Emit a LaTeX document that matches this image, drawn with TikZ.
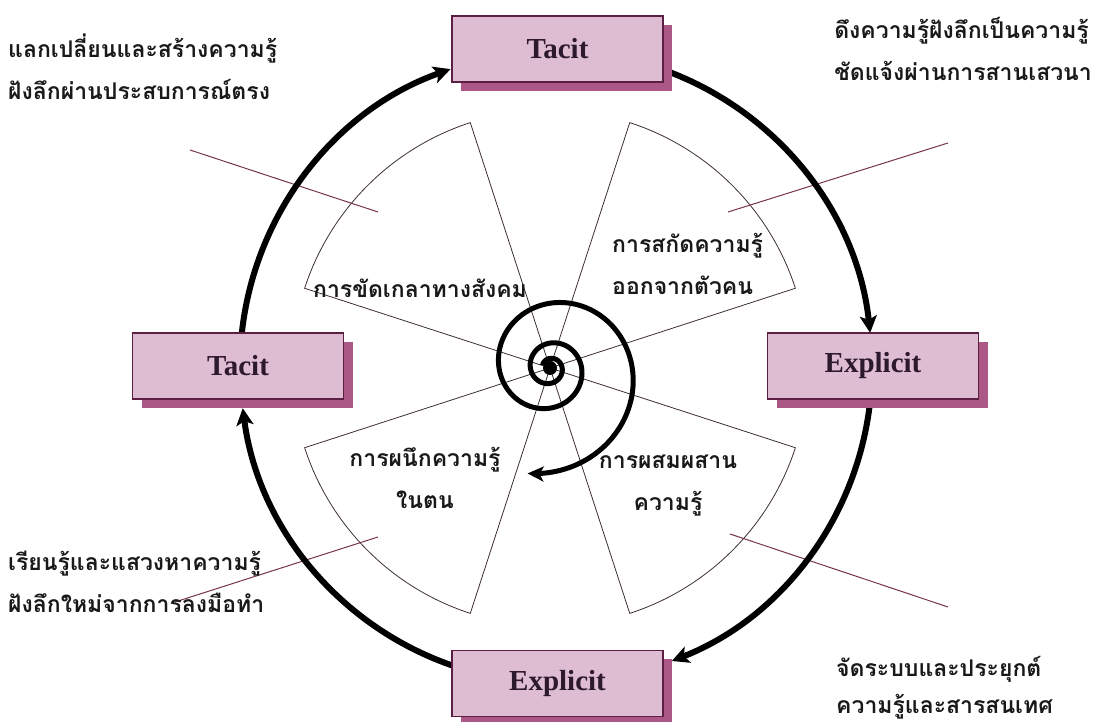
\documentclass[tikz,border=0pt]{standalone}
\usepackage{fontspec}
\setmainfont{Liberation Serif}
\newfontfamily\thaifont[Script=Thai]{Loma}
\usetikzlibrary{arrows.meta,calc,shadows}
\definecolor{boxfill}{RGB}{222,188,210}
\definecolor{boxshade}{RGB}{172,88,135}
\definecolor{boxline}{RGB}{92,30,66}
\definecolor{leadline}{RGB}{120,50,80}
\definecolor{wedgeline}{RGB}{60,45,55}
\definecolor{labeltext}{RGB}{45,25,45}

\begin{document}
\begin{tikzpicture}[x=1pt,y=1pt,
  modebox/.style = {draw=boxline, line width=1.2pt, fill=boxfill, minimum width=211pt, minimum height=66pt,
    font=\fontsize{29}{32}\selectfont\bfseries, text=labeltext,
    drop shadow={shadow xshift=9pt, shadow yshift=-9pt, fill=boxshade, opacity=1}},
  cyclearrow/.style = {line width=6pt, -{Stealth[length=17pt,width=17pt,inset=4pt]}},
  spiral/.style = {line width=5pt, -{Stealth[length=16pt,width=15pt,inset=4pt]}},
  wedge/.style = {draw=wedgeline, line width=0.8pt},
  leader/.style = {draw=leadline, line width=1pt},
  thaitext/.style = {font=\thaifont\bfseries\fontsize{23}{42}\selectfont, text=black!90, align=left, inner sep=0pt}]
\useasboundingbox (0,0) rectangle (1094,722);

\coordinate (C) at (556,355);
\coordinate (S) at (550,354);

\draw[wedge] (S) -- ++(18:258) arc[start angle=18, end angle=72, radius=258] -- cycle;
\draw[wedge] (S) -- ++(108:258) arc[start angle=108, end angle=162, radius=258] -- cycle;
\draw[wedge] (S) -- ++(198:258) arc[start angle=198, end angle=252, radius=258] -- cycle;
\draw[wedge] (S) -- ++(288:258) arc[start angle=288, end angle=342, radius=258] -- cycle;

\coordinate (tl1) at (190,572);
\coordinate (tl2) at (378,510);
\coordinate (tr1) at (948,579);
\coordinate (tr2) at (728,510);
\coordinate (bl1) at (175,120);
\coordinate (bl2) at (378,185);
\coordinate (br1) at (730,188);
\coordinate (br2) at (948,115);

\draw[leader] (tl1) -- (tl2);
\draw[leader] (tr1) -- (tr2);
\draw[leader] (bl1) -- (bl2);
\draw[leader] (br1) -- (br2);

\coordinate (a1) at ($(C)+(76:316)$);
\coordinate (a2) at ($(C)+(-3:316)$);
\coordinate (a3) at ($(C)+(-104:316)$);
\coordinate (a4) at ($(C)+(177:316)$);

\draw[cyclearrow] (a1) arc[start angle=76, end angle=6.2, radius=316];
\draw[cyclearrow] (a2) arc[start angle=-3, end angle=-68.5, radius=316];
\draw[cyclearrow] (a3) arc[start angle=-104, end angle=-172.5, radius=316];
\draw[cyclearrow] (a4) arc[start angle=177, end angle=109.5, radius=316];

\draw[spiral] plot[domain=880:-102, samples=220, smooth, variable=\t]
  ({550+51*exp(0.00266*(180-\t))*cos(\t)}, {354+51*exp(0.00266*(180-\t))*sin(\t)});
\fill (S) circle (7);

\node[modebox] (tacitTop) at (557.5,673) {Tacit};
\node[modebox] (tacitLeft) at (238,356) {Tacit};
\node[modebox] (explRight) at (873,356) {Explicit};
\node[modebox] (explBottom) at (557.5,38.5) {Explicit};

\node[thaitext, anchor=west] (tlnote) at (8,655) {แลกเปลี่ยนและสร้างความรู้\\ฝังลึกผ่านประสบการณ์ตรง};
\node[thaitext, anchor=east] (trnote) at (1092,673) {ดึงความรู้ฝังลึกเป็นความรู้\\ชัดแจ้งผ่านการสานเสวนา};
\node[thaitext, anchor=west] (blnote) at (8,140) {เรียนรู้และแสวงหาความรู้\\ฝังลึกใหม่จากการลงมือทำ};
\node[thaitext, anchor=south west, font=\thaifont\bfseries\fontsize{23}{37}\selectfont] (brnote) at (836,3) {จัดระบบและประยุกต์\\ความรู้และสารสนเทศ};

\node[thaitext] (socialise) at (420,434) {การขัดเกลาทางสังคม};
\node[thaitext, anchor=west] (externalise) at (612,458) {การสกัดความรู้\\ออกจากตัวคน};
\node[thaitext, align=center] (internalise) at (425,244) {การผนึกความรู้\\ในตน};
\node[thaitext, align=center] (combine) at (668,236) {การผสมผสาน\\ความรู้};
\end{tikzpicture}
\end{document}
